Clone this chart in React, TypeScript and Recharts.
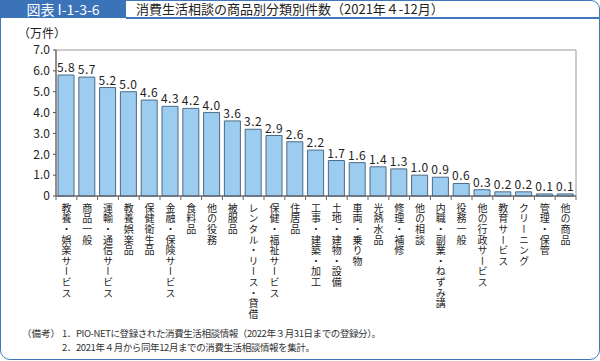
import React from 'react';
import { BarChart, Bar, XAxis, YAxis, LabelList, ReferenceArea } from 'recharts';

const categories = [
  '教養・娯楽サービス', '商品一般', '運輸・通信サービス', '教養娯楽品', '保健衛生品',
  '金融・保険サービス', '食料品', '他の役務', '被服品', 'レンタル・リース・貸借',
  '保健・福祉サービス', '住居品', '工事・建築・加工', '土地・建物・設備', '車両・乗り物',
  '光熱水品', '修理・補修', '他の相談', '内職・副業・ねずみ講', '役務一般',
  '他の行政サービス', '教育サービス', 'クリーニング', '管理・保管', '他の商品',
];
const counts = [
  5.8, 5.7, 5.2, 5.0, 4.6, 4.3, 4.2, 4.0, 3.6, 3.2, 2.9, 2.6, 2.2,
  1.7, 1.6, 1.4, 1.3, 1.0, 0.9, 0.6, 0.3, 0.2, 0.2, 0.1, 0.1,
];
const yTicks = [0, 1, 2, 3, 4, 5, 6, 7];

const data = categories.map((name, i) => ({ name, value: counts[i] }));

const FONT = '"Noto Sans CJK JP", "Noto Sans", sans-serif';
const BLUE = '#3f78bd';
const PLOT_LEFT = 56;
const PLOT_RIGHT = 576;
const SLOT = (PLOT_RIGHT - PLOT_LEFT) / categories.length;

// category labels in vertical writing mode
const VerticalTick = (props: any) => {
  const { x, y, payload, index } = props;
  return (
    <g>
      <line x1={x - SLOT / 2} x2={x - SLOT / 2} y1={y} y2={y + 4} stroke="#666" />
      {index === categories.length - 1 && (
        <line x1={x + SLOT / 2} x2={x + SLOT / 2} y1={y} y2={y + 4} stroke="#666" />
      )}
      <text x={x} y={y + 7} fontSize={10} fill="#222" fontFamily={FONT}
        style={{ writingMode: 'vertical-rl', letterSpacing: 0.6 } as any}>
        {payload.value}
      </text>
    </g>
  );
};

export default function App() {
  return (
    <div style={{ position: 'absolute', left: 0, top: 0, width: 600, height: 361, background: '#fff', fontFamily: FONT }}>
      <div style={{
        position: 'absolute', left: 0, top: 0, width: 600, height: 360, boxSizing: 'border-box',
        border: `1.5px solid ${BLUE}`, borderRadius: '0 9px 10px 10px',
      }} />
      <div style={{
        position: 'absolute', left: 0, top: 0, width: 126, height: 18, background: '#3a73b8',
        color: '#fff', fontSize: 14, lineHeight: '18px', textAlign: 'center',
      }}>図表 I-1-3-6</div>
      <div style={{ position: 'absolute', left: 126, top: 17, width: 474, height: 1.5, background: BLUE }} />
      <div style={{ position: 'absolute', left: 136, top: 0, fontSize: 13, lineHeight: '18px', color: '#222' }}>
        消費生活相談の商品別分類別件数（2021年４-12月）
      </div>
      <div style={{ position: 'absolute', left: 18, top: 26, fontSize: 12, lineHeight: '14px', color: '#222' }}>
        （万件）
      </div>

      <div style={{ position: 'absolute', left: 0, top: 0 }}>
        <BarChart width={600} height={361} data={data}
          margin={{ top: 50, right: 600 - PLOT_RIGHT, bottom: 35, left: 0 }} barSize={16}>
          <ReferenceArea y1={0} y2={7} fill="none" stroke="#999" strokeWidth={1} ifOverflow="visible" />
          <XAxis dataKey="name" interval={0} height={130} tickLine={false} tickSize={0} tickMargin={0}
            axisLine={{ stroke: '#555' }} tick={<VerticalTick />} />
          <YAxis domain={[0, 7]} ticks={yTicks} width={PLOT_LEFT} tickSize={3} tickMargin={3}
            axisLine={{ stroke: '#555' }} tickLine={{ stroke: '#555' }}
            tick={{ fontSize: 12, fill: '#222', fontFamily: FONT }}
            tickFormatter={(v: number) => (v === 0 ? '0' : v.toFixed(1))} />
          <Bar dataKey="value" fill="#9ccdf0" stroke="#4d6b86" strokeWidth={1} isAnimationActive={false}>
            <LabelList dataKey="value" position="top" offset={3} fontSize={12} fill="#222"
              fontFamily={FONT} letterSpacing={0.5} formatter={(v: any) => Number(v).toFixed(1)} />
          </Bar>
        </BarChart>
      </div>

      <div style={{ position: 'absolute', left: 22, top: 326, fontSize: 9.5, lineHeight: '14px', color: '#333' }}>（備考）</div>
      <div style={{ position: 'absolute', left: 62, top: 326, fontSize: 9.5, lineHeight: '14px', color: '#333', letterSpacing: -0.4 }}>
        <div>1．PIO-NETに登録された消費生活相談情報（2022年３月31日までの登録分）。</div>
        <div>2．2021年４月から同年12月までの消費生活相談情報を集計。</div>
      </div>
    </div>
  );
}
